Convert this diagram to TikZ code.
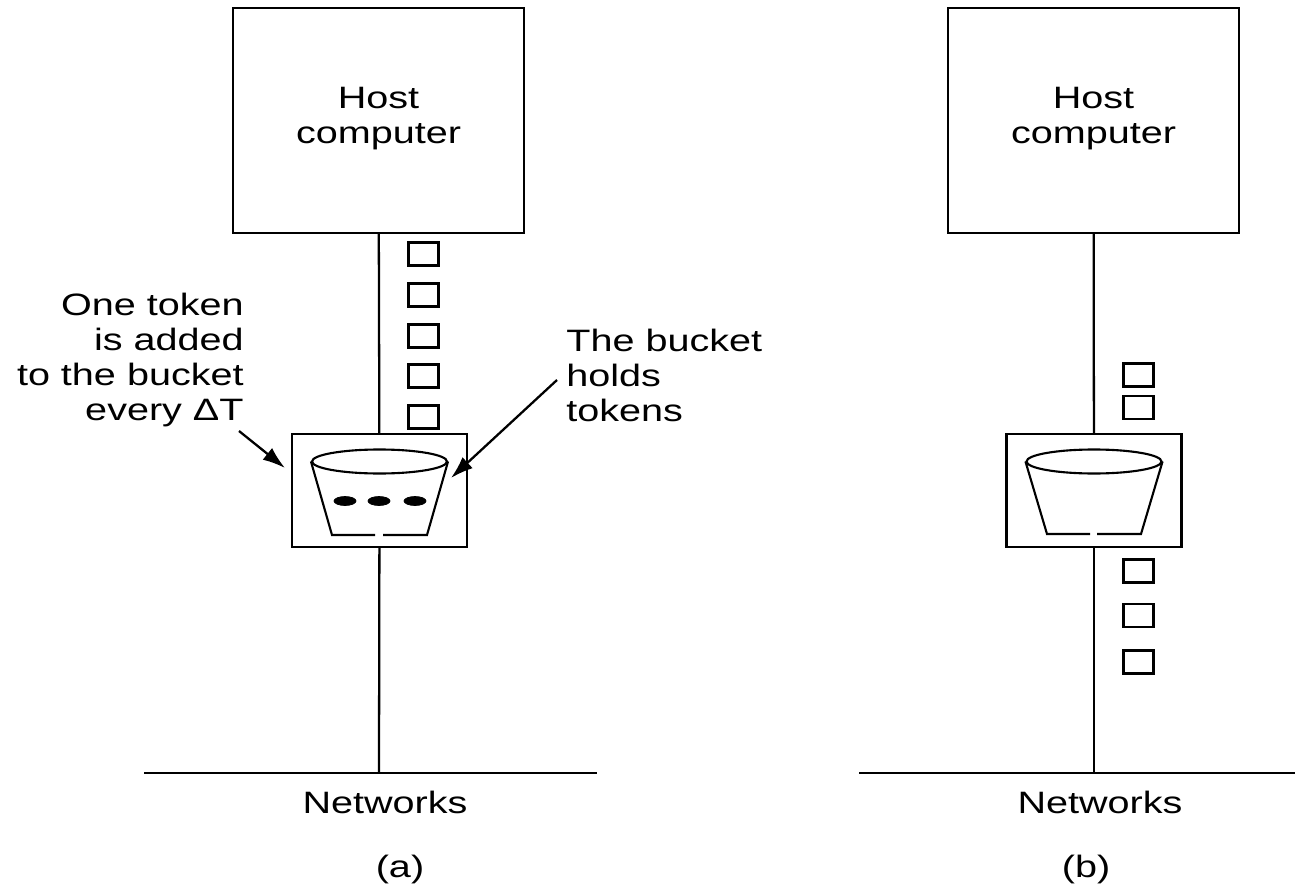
\documentclass[tikz,border=0pt]{standalone}
\usepackage{fontspec}
\setmainfont[FakeStretch=1.28]{Liberation Sans}
\usetikzlibrary{arrows.meta,shapes.geometric,positioning}
\tikzset{
  every node/.style={font=\fontsize{17.6}{19.9}\selectfont},
  wire/.style={line width=1.3pt},
  thin wire/.style={line width=1.2pt},
  hostbox/.style={draw,line width=1.3pt,minimum width=5.82cm,minimum height=4.5cm,align=center,text depth=6pt},
  bucketbox/.style={draw,line width=1.3pt,minimum width=3.5cm,minimum height=2.26cm},
  tokenbox/.style={draw,line width=1.25pt,minimum width=0.6cm,minimum height=0.46cm,inner sep=0pt},
  rim/.style={draw,ellipse,line width=1.2pt,minimum width=2.7cm,minimum height=0.48cm,inner sep=0pt},
  drop/.style={draw,fill,ellipse,minimum width=0.44cm,minimum height=0.18cm,inner sep=0pt},
  pointer/.style={line width=1.3pt,-{Latex[length=0.45cm,width=0.3cm]}},
  label/.style={inner sep=0pt}
}
\begin{document}
\begin{tikzpicture}[x=0.02cm,y=-0.02cm]
  \useasboundingbox (0,0) rectangle (1295,885);
  % left part
  \node [hostbox] (hostA) at (378.5,120.5) {Host\\computer};
  \node [bucketbox] (bucketA) at (379.5,490.5) {};
  \coordinate (groundA) at (379,773);
  \coordinate (netAl) at (144,773);
  \coordinate (netAr) at (597,773);
  \draw [wire] (hostA) -- (bucketA);
  \draw [wire] (bucketA) -- (groundA);
  \draw [wire] (netAl) -- (netAr);
  \node [rim] (rimA) at (379.5,461.5) {};
  \coordinate (gapAl) at (375,535);
  \coordinate (gapAr) at (383,535);
  \draw [thin wire] (rimA.west) -- (332,535) -- (gapAl);
  \draw [thin wire] (rimA.east) -- (427,535) -- (gapAr);
  \foreach \x/\n in {345/a,379/b,415/c}
    \node [drop] (drop\n) at (\x,501) {};
  \foreach \y/\n in {254/a,295/b,336/c,376/d,417/e}
    \node [tokenbox] (tokA\n) at (423.5,\y) {};
  \node [label,align=right,anchor=east] (addA) at (244,360) {One token\\is added\\to the bucket\\every ΔT};
  \node [label,align=left,anchor=west] (holdA) at (566,375) {The bucket\\holds\\tokens};
  \coordinate (addFrom) at (239,431);
  \coordinate (addTo) at (285,468);
  \coordinate (holdFrom) at (557,380);
  \coordinate (holdTo) at (451,478);
  \draw [pointer] (addFrom) -- (addTo);
  \draw [pointer] (holdFrom) -- (holdTo);
  \node [label,anchor=base] (netA) at (385,813) {Networks};
  \node [label,anchor=base] (capA) at (400,877) {(a)};
  % right part
  \node [hostbox] (hostB) at (1093.5,120.5) {Host\\computer};
  \node [bucketbox] (bucketB) at (1094,490.5) {};
  \coordinate (groundB) at (1094,773);
  \coordinate (netBl) at (859,773);
  \coordinate (netBr) at (1295,773);
  \draw [wire] (hostB) -- (bucketB);
  \draw [wire] (bucketB) -- (groundB);
  \draw [wire] (netBl) -- (netBr);
  \node [rim] (rimB) at (1094,461.5) {};
  \coordinate (gapBl) at (1090,534);
  \coordinate (gapBr) at (1097,534);
  \draw [thin wire] (rimB.west) -- (1047,534) -- (gapBl);
  \draw [thin wire] (rimB.east) -- (1141,534) -- (gapBr);
  \foreach \y/\n in {375/a,407.5/b,571/c,615.5/d,662/e}
    \node [tokenbox] (tokB\n) at (1138.5,\y) {};
  \node [label,anchor=base] (netB) at (1100,813) {Networks};
  \node [label,anchor=base] (capB) at (1086,877) {(b)};
\end{tikzpicture}
\end{document}
